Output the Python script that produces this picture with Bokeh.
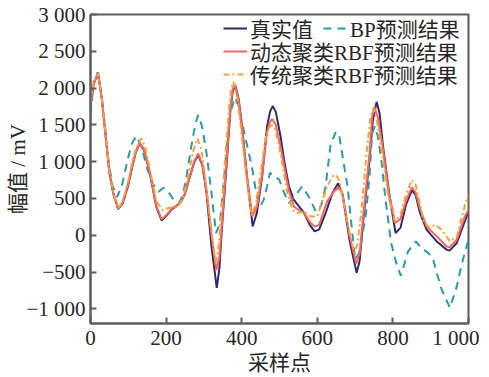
from bokeh.plotting import figure
from bokeh.models import Range1d, FixedTicker, Legend, LegendItem
from bokeh.embed import file_html
from bokeh.resources import INLINE

# ---- data ----
true_x = [0, 8, 20, 30, 40, 50, 60, 73, 85, 99, 110, 120, 130, 142, 157, 174, 188, 200, 215, 237, 250, 263, 275, 285,
          296, 307, 320, 334, 341, 348, 361, 370, 376, 383, 392, 401, 414, 429, 440, 454, 467, 475, 482, 490, 503, 512,
          525, 538, 552, 565, 580, 593, 605, 622, 640, 655, 667, 685, 704, 712, 720, 738, 747, 757, 765, 773, 790, 807,
          820, 835, 850, 860, 872, 889, 916, 942, 950, 969, 995, 1000]
true_y = [1750, 2050, 2210, 1850, 1350, 850, 572, 355, 430, 662, 920, 1130, 1250, 1150, 843, 390, 200, 260, 350, 436,
          560, 797, 1000, 1090, 950, 572, -151, -716, -450, 119, 1023, 1700, 1950, 2040, 1850, 1474, 797, 119, 300, 797,
          1474, 1680, 1755, 1680, 1339, 1023, 662, 481, 390, 304, 140, 52, 80, 301, 572, 705, 550, -61, -512, -350, 119,
          1023, 1565, 1813, 1650, 1249, 572, 30, 100, 420, 610, 550, 300, 75, -84, -196, -210, -106, 255, 323]

bp_x = [0, 8, 18, 28, 38, 48, 58, 70, 82, 95, 108, 121, 135, 150, 165, 180, 193, 205, 220, 235, 245, 254, 268, 278,
        285, 295, 307, 320, 332, 342, 352, 362, 372, 382, 392, 410, 427, 440, 449, 458, 467, 475, 485, 499, 512, 525,
        540, 560, 578, 596, 610, 622, 635, 649, 658, 667, 680, 689, 700, 710, 716, 729, 738, 745, 752, 760, 770, 779,
        795, 810, 821, 830, 840, 861, 875, 890, 905, 916, 929, 951, 969, 983, 1000]
bp_y = [1633, 2050, 2210, 1950, 1500, 1000, 680, 520, 650, 950, 1230, 1348, 1200, 900, 700, 590, 645, 600, 480, 440,
        560, 800, 1249, 1530, 1633, 1480, 1114, 572, 30, 150, 700, 1300, 1700, 1870, 1750, 1317, 932, 526, 390, 480,
        662, 850, 800, 760, 580, 436, 530, 662, 520, 323, 400, 662, 1226, 1407, 1350, 1068, 662, 210, -330, -250,
        -100, 301, 797, 1385, 1480, 1350, 1000, 550, -100, -400, -550, -400, -220, -84, -180, -225, -300, -512, -738,
        -987, -695, -373, -60]

dyn_x = [0, 8, 20, 30, 40, 50, 60, 73, 85, 99, 110, 120, 130, 142, 157, 174, 188, 200, 215, 237, 250, 263, 275, 285,
         296, 307, 320, 333, 341, 348, 361, 370, 376, 382, 392, 401, 414, 428, 440, 454, 467, 475, 481, 490, 503, 512,
         525, 538, 552, 565, 580, 593, 605, 626, 645, 657, 667, 685, 703, 712, 720, 738, 745, 751, 760, 773, 790, 806,
         820, 835, 850, 860, 872, 889, 916, 942, 950, 969, 990, 1000]
dyn_y = [1780, 2060, 2200, 1850, 1350, 860, 580, 360, 440, 680, 930, 1130, 1255, 1160, 850, 400, 215, 270, 360, 440,
         570, 800, 1010, 1110, 960, 600, 0, -477, -300, 180, 1080, 1720, 1980, 2050, 1830, 1450, 800, 255, 380, 820,
         1400, 1540, 1580, 1500, 1200, 950, 600, 390, 340, 304, 180, 119, 140, 460, 600, 650, 560, 0, -386, -250, 180,
         1100, 1600, 1745, 1600, 1200, 560, 165, 220, 470, 653, 580, 360, 119, -16, -151, -165, -61, 250, 345]

trad_x = [0, 8, 20, 30, 40, 50, 60, 73, 85, 99, 110, 120, 134, 145, 157, 174, 190, 200, 215, 230, 245, 260, 272, 283,
          294, 307, 320, 331, 338, 346, 357, 366, 372, 378, 388, 398, 412, 426, 438, 450, 463, 472, 480, 490, 503, 521,
          534, 547, 565, 583, 600, 626, 640, 650, 660, 680, 698, 706, 716, 730, 740, 748, 756, 770, 787, 805, 820, 835,
          850, 860, 872, 881, 898, 911, 929, 951, 969, 991, 1000]
trad_y = [1800, 2080, 2200, 1870, 1380, 880, 590, 360, 460, 720, 980, 1180, 1316, 1200, 900, 470, 340, 360, 380, 380,
          500, 850, 1150, 1317, 1150, 650, 50, -377, -200, 300, 1100, 1700, 1980, 2084, 1880, 1450, 800, 270, 420, 850,
          1320, 1460, 1497, 1420, 1100, 572, 345, 300, 323, 255, 255, 662, 800, 820, 720, 150, -241, -120, 300, 1100,
          1580, 1723, 1620, 1150, 550, 187, 280, 560, 752, 690, 420, 187, 97, 142, 75, -84, -16, 413, 549]

names = ["真实值", "BP预测结果", "动态聚类RBF预测结果", "传统聚类RBF预测结果"]
x_ticks = [0, 200, 400, 600, 800, 1000]
x_tick_labels = ["0", "200", "400", "600", "800", "1 000"]
y_ticks = [-1000, -500, 0, 500, 1000, 1500, 2000, 2500, 3000]
y_tick_labels = ["−1 000", "−500", "0", "500", "1 000", "1 500", "2 000", "2 500", "3 000"]
x_label = "采样点"
y_label = "幅值 / mV"

FONT = "Liberation Serif, Noto Sans CJK SC"
FRAME = "#5c5c5c"
TXT = "#262626"

p = figure(width=479, height=377, output_backend="svg", toolbar_location=None,
           x_range=Range1d(0, 1000), y_range=Range1d(-1200, 3000),
           min_border_left=90, min_border_right=11, min_border_top=14, min_border_bottom=53)
p.background_fill_color = "white"
p.border_fill_color = "white"
p.outline_line_color = FRAME
p.outline_line_width = 2
p.xgrid.visible = False
p.ygrid.visible = False

for ax, ticks, labels, standoff in ((p.xaxis[0], x_ticks, x_tick_labels, 2), (p.yaxis[0], y_ticks, y_tick_labels, 5)):
    ax.ticker = FixedTicker(ticks=ticks)
    ax.major_label_overrides = {t: l for t, l in zip(ticks, labels)}
    ax.major_tick_in = 6
    ax.major_tick_out = 0
    ax.minor_tick_line_color = None
    ax.major_tick_line_color = FRAME
    ax.major_tick_line_width = 2
    ax.axis_line_color = FRAME
    ax.axis_line_width = 2
    ax.major_label_text_font = FONT
    ax.major_label_text_font_size = "21px"
    ax.major_label_text_color = TXT
    ax.major_label_standoff = standoff
    ax.axis_label_text_font = FONT
    ax.axis_label_text_font_size = "21px"
    ax.axis_label_text_font_style = "normal"
    ax.axis_label_text_color = TXT

p.xaxis.axis_label = x_label
p.yaxis.axis_label = y_label
p.xaxis.axis_label_standoff = -2
p.yaxis.axis_label_standoff = -7

r_true = p.line(true_x, true_y, line_color="#33296b", line_width=2)
r_bp = p.line(bp_x, bp_y, line_color="#2a9ba6", line_width=2, line_dash="8 6")
r_dyn = p.line(dyn_x, dyn_y, line_color="#f2675a", line_width=2)
r_trad = p.line(trad_x, trad_y, line_color="#f8a03c", line_width=2, line_dash="6 3 2 3")


def make_legend(label, renderer, loc):
    lg = Legend(items=[LegendItem(label=label, renderers=[renderer])], location=loc,
                padding=0, margin=0, spacing=0,
                border_line_color=None, background_fill_alpha=0,
                glyph_width=24, glyph_height=20, label_height=20, label_standoff=3,
                label_text_font=FONT, label_text_font_size="21px", label_text_color=TXT)
    p.add_layout(lg)
    return lg


make_legend(names[0], r_true, (133, 280))
make_legend(names[1], r_bp, (233, 280))
make_legend(names[2], r_dyn, (133, 257))
make_legend(names[3], r_trad, (133, 234))

open("out.html", "w").write(file_html(p, INLINE))
